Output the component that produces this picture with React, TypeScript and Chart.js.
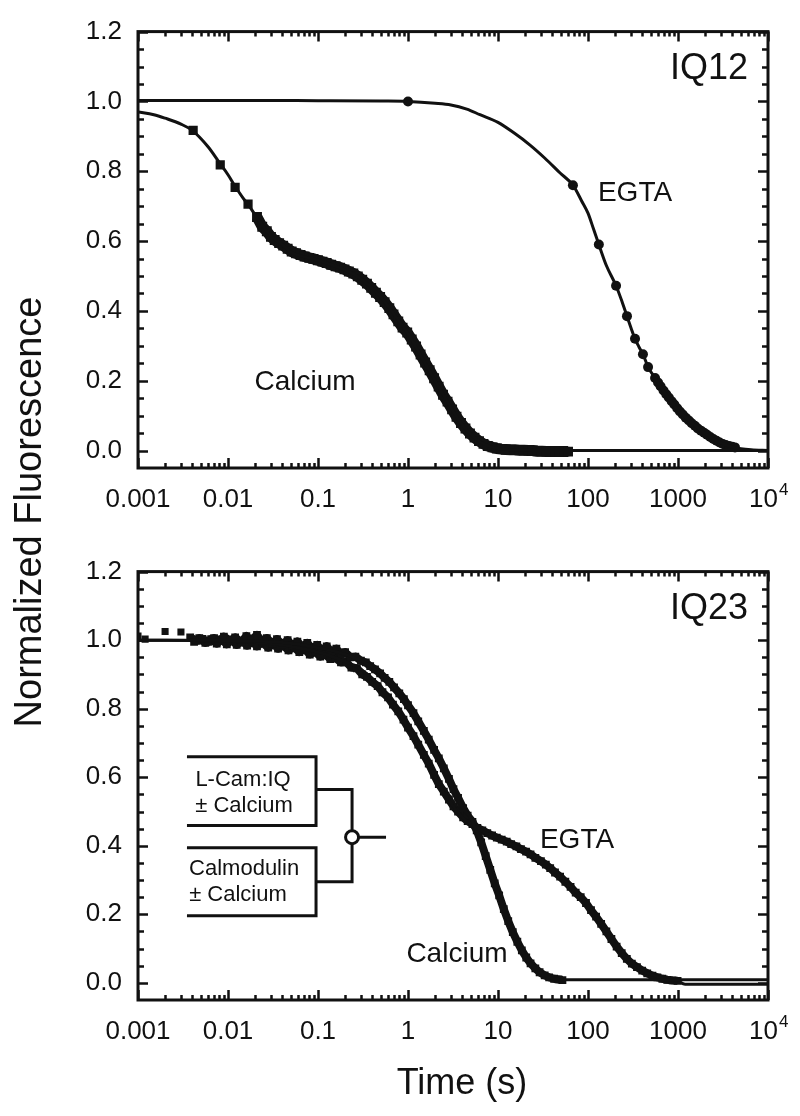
import React, { useEffect, useRef } from 'react';
import { Chart, registerables } from 'chart.js';

Chart.register(...registerables);

const FONT = '"Liberation Sans", Arial, Helvetica, sans-serif';
const INK = '#111111';

// ---- axes ----
const xMin = 0.001;
const xMax = 10000;
const yMin = -0.05;
const yMax = 1.2;
const xTickValues = [0.001, 0.01, 0.1, 1, 10, 100, 1000, 10000];
const xTickLabels = ['0.001', '0.01', '0.1', '1', '10', '100', '1000', ''];
const yTickValues = [0, 0.2, 0.4, 0.6, 0.8, 1.0, 1.2];
const yTickLabels = ['0.0', '0.2', '0.4', '0.6', '0.8', '1.0', '1.2'];
const yMinorTicks = [0.05, 0.1, 0.15, 0.25, 0.3, 0.35, 0.45, 0.5, 0.55, 0.65, 0.7, 0.75, 0.85, 0.9, 0.95, 1.05, 1.1, 1.15];

// ---- top panel (IQ12) ----
const topEgtaFitTime = [0.001, 0.01, 0.1, 0.5, 1, 2, 3, 4.5, 6.3, 10, 15, 22.7, 33, 49, 68, 85, 100, 115, 132, 160, 205, 240, 271, 300, 333, 370, 408, 465, 556, 650, 750, 870, 1000, 1250, 1500, 1800, 2200, 2700, 3300, 4000, 5000, 6500, 10000];
const topEgtaFitValue = [1.003, 1.003, 1.002, 1.001, 1.0, 0.995, 0.99, 0.978, 0.962, 0.94, 0.91, 0.875, 0.838, 0.795, 0.76, 0.715, 0.68, 0.635, 0.59, 0.53, 0.472, 0.425, 0.385, 0.352, 0.32, 0.296, 0.276, 0.239, 0.208, 0.18, 0.158, 0.135, 0.115, 0.092, 0.075, 0.058, 0.042, 0.028, 0.017, 0.01, 0.005, 0.002, 0.0];

const topEgtaTime = [1, 68, 132, 205, 271, 333, 408, 465, 556, 600, 640, 690, 740, 790, 850, 910, 980, 1050, 1130, 1220, 1320, 1420, 1540, 1660, 1800, 1950, 2100, 2280, 2470, 2680, 2900, 3150, 3400, 3700, 4000, 4300];
const topEgtaValue = [1.0, 0.76, 0.59, 0.472, 0.385, 0.32, 0.276, 0.239, 0.208, 0.195, 0.184, 0.172, 0.161, 0.152, 0.141, 0.132, 0.121, 0.112, 0.103, 0.094, 0.086, 0.078, 0.071, 0.063, 0.057, 0.051, 0.045, 0.039, 0.033, 0.028, 0.023, 0.019, 0.016, 0.013, 0.011, 0.009];

const topCalciumFitTime = [0.001, 0.0015, 0.002, 0.003, 0.004, 0.006, 0.008, 0.01, 0.012, 0.015, 0.0167, 0.02, 0.025, 0.03, 0.04, 0.05, 0.07, 0.1, 0.15, 0.2, 0.25, 0.3, 0.4, 0.5, 0.7, 1, 1.4, 2, 2.7, 3.5, 4.5, 6.3, 8, 10, 15, 25, 10000];
const topCalciumFitValue = [0.97, 0.962, 0.952, 0.935, 0.917, 0.87, 0.825, 0.79, 0.757, 0.72, 0.705, 0.675, 0.64, 0.615, 0.59, 0.568, 0.555, 0.545, 0.53, 0.517, 0.505, 0.492, 0.465, 0.44, 0.39, 0.335, 0.27, 0.2, 0.143, 0.095, 0.058, 0.025, 0.012, 0.006, 0.002, 0.0, 0.0];

const topCalciumSparseTime = [0.0041, 0.0082, 0.012, 0.0167];
const topCalciumSparseValue = [0.917, 0.818, 0.754, 0.706];

const topCalciumTime = [0.021, 0.024, 0.027, 0.03, 0.033, 0.037, 0.041, 0.046, 0.051, 0.057, 0.064, 0.071, 0.08, 0.089, 0.1, 0.112, 0.125, 0.14, 0.157, 0.176, 0.197, 0.22, 0.247, 0.277, 0.31, 0.35, 0.39, 0.44, 0.49, 0.55, 0.62, 0.69, 0.78, 0.87, 0.98, 1.1, 1.23, 1.38, 1.55, 1.74, 1.95, 2.19, 2.45, 2.75, 3.09, 3.46, 3.88, 4.35, 4.88, 5.48, 6.15, 6.9, 7.7, 8.7, 9.7, 10.9, 12.2, 13.7, 15.4, 17.3, 19.4, 21.8, 24.4, 27.4, 30.7, 34.5, 38.7, 43.4, 48.7, 54.6, 60];
const topCalciumValue = [0.669, 0.641, 0.628, 0.612, 0.603, 0.594, 0.587, 0.578, 0.57, 0.565, 0.56, 0.556, 0.552, 0.549, 0.545, 0.541, 0.537, 0.532, 0.528, 0.524, 0.519, 0.513, 0.507, 0.499, 0.489, 0.478, 0.466, 0.452, 0.44, 0.425, 0.408, 0.39, 0.37, 0.352, 0.338, 0.318, 0.298, 0.275, 0.252, 0.23, 0.207, 0.183, 0.16, 0.14, 0.118, 0.097, 0.079, 0.063, 0.049, 0.037, 0.027, 0.019, 0.013, 0.009, 0.006, 0.004, 0.003, 0.002, 0.002, 0.001, 0.001, 0.0, 0.0, -0.002, -0.002, -0.003, -0.003, -0.003, -0.003, -0.003, -0.003];

// ---- bottom panel (IQ23) ----
const botCalciumFitTime = [0.001, 0.01, 0.03, 0.06, 0.1, 0.15, 0.2, 0.3, 0.45, 0.68, 1, 1.5, 2, 2.45, 3, 3.5, 4.2, 5, 5.5, 6.3, 7, 8.8, 10.5, 13, 16, 21, 28, 38, 50, 10000];
const botCalciumFitValue = [1.0, 0.999, 0.995, 0.988, 0.978, 0.968, 0.958, 0.94, 0.912, 0.868, 0.81, 0.735, 0.675, 0.63, 0.58, 0.54, 0.505, 0.48, 0.455, 0.42, 0.385, 0.3, 0.245, 0.18, 0.124, 0.07, 0.035, 0.015, 0.009, 0.009];

const botEgtaFitTime = [0.001, 0.01, 0.03, 0.06, 0.1, 0.15, 0.2, 0.3, 0.45, 0.68, 1, 1.5, 2, 2.45, 3, 3.5, 4.2, 5, 5.5, 7, 9.7, 13, 16, 22, 30, 38, 50, 65, 88, 110, 136, 170, 210, 260, 350, 450, 585, 750, 975, 1200, 10000];
const botEgtaFitValue = [1.0, 0.997, 0.99, 0.978, 0.965, 0.95, 0.938, 0.915, 0.875, 0.815, 0.745, 0.665, 0.6, 0.56, 0.525, 0.5, 0.478, 0.465, 0.457, 0.44, 0.424, 0.41, 0.398, 0.38, 0.355, 0.335, 0.31, 0.28, 0.244, 0.21, 0.178, 0.138, 0.104, 0.075, 0.048, 0.03, 0.018, 0.01, 0.006, -0.004, -0.004];

const botSparseTime = [0.001, 0.002, 0.003, 0.0012];
const botSparseValue = [1.012, 1.025, 1.024, 1.003];

const botCalciumTime = [0.0038, 0.0045, 0.0052, 0.006, 0.007, 0.008, 0.009, 0.0105, 0.012, 0.014, 0.016, 0.018, 0.021, 0.024, 0.027, 0.031, 0.035, 0.04, 0.046, 0.052, 0.059, 0.067, 0.076, 0.086, 0.098, 0.11, 0.125, 0.14, 0.16, 0.18, 0.2, 0.23, 0.26, 0.3, 0.34, 0.38, 0.43, 0.49, 0.55, 0.62, 0.7, 0.8, 0.9, 1.0, 1.15, 1.3, 1.5, 1.7, 1.95, 2.2, 2.5, 2.85, 3.2, 3.6, 4.1, 4.6, 5.2, 5.8, 6.5, 7.3, 8.2, 9.2, 10.3, 11.6, 13, 14.6, 16.4, 18.4, 20.6, 23, 26, 29, 33, 37, 42, 47, 52];
const botCalciumValue = [1.008, 0.998, 1.004, 0.995, 1.006, 0.997, 1.01, 0.999, 1.008, 0.994, 1.012, 1.0, 1.015, 0.996, 1.006, 0.99, 1.003, 0.988, 1.0, 0.984, 0.996, 0.98, 0.992, 0.975, 0.986, 0.97, 0.982, 0.966, 0.975, 0.958, 0.965, 0.95, 0.952, 0.94, 0.935, 0.924, 0.915, 0.903, 0.89, 0.878, 0.862, 0.845, 0.828, 0.81, 0.787, 0.763, 0.735, 0.71, 0.68, 0.655, 0.626, 0.595, 0.565, 0.54, 0.51, 0.488, 0.47, 0.445, 0.41, 0.37, 0.33, 0.29, 0.255, 0.215, 0.18, 0.148, 0.12, 0.095, 0.074, 0.057, 0.042, 0.031, 0.022, 0.016, 0.012, 0.01, 0.008];

const botEgtaTime = [0.0042, 0.0048, 0.0056, 0.0065, 0.0075, 0.0085, 0.0097, 0.011, 0.0125, 0.0143, 0.0163, 0.0186, 0.021, 0.024, 0.028, 0.032, 0.036, 0.041, 0.047, 0.054, 0.062, 0.071, 0.081, 0.093, 0.106, 0.12, 0.137, 0.156, 0.18, 0.205, 0.235, 0.27, 0.31, 0.35, 0.4, 0.46, 0.52, 0.6, 0.68, 0.78, 0.89, 1.0, 1.15, 1.3, 1.5, 1.7, 1.95, 2.2, 2.5, 2.85, 3.2, 3.6, 4.1, 4.6, 5.2, 5.9, 6.7, 7.6, 8.6, 9.7, 11, 12.5, 14, 16, 18, 20.5, 23, 26, 30, 34, 38, 43, 49, 56, 64, 73, 83, 95, 108, 123, 140, 160, 182, 208, 237, 270, 307, 350, 400, 455, 520, 590, 670, 760, 870, 990];
const botEgtaValue = [0.995, 1.006, 0.992, 1.003, 0.99, 1.002, 0.988, 1.0, 0.986, 0.998, 0.984, 0.996, 0.982, 0.993, 0.978, 0.99, 0.975, 0.985, 0.97, 0.98, 0.965, 0.974, 0.958, 0.966, 0.952, 0.958, 0.945, 0.948, 0.935, 0.936, 0.92, 0.918, 0.9, 0.893, 0.878, 0.866, 0.848, 0.833, 0.812, 0.792, 0.768, 0.745, 0.72, 0.695, 0.665, 0.64, 0.607, 0.58, 0.558, 0.535, 0.515, 0.5, 0.483, 0.472, 0.463, 0.452, 0.445, 0.437, 0.43, 0.424, 0.418, 0.412, 0.405, 0.398, 0.39, 0.383, 0.375, 0.365, 0.355, 0.345, 0.335, 0.322, 0.31, 0.295, 0.28, 0.263, 0.25, 0.233, 0.212, 0.193, 0.172, 0.15, 0.128, 0.106, 0.087, 0.07, 0.056, 0.046, 0.036, 0.028, 0.021, 0.016, 0.012, 0.009, 0.007, 0.006];

// ---- annotations (time, value coordinates) ----
type Note = { text: string; t: number; v: number; size: number; align: CanvasTextAlign };
const topNotes: Note[] = [
  { text: 'IQ12', t: 5998, v: 1.093, size: 36, align: 'right' },
  { text: 'EGTA', t: 333, v: 0.738, size: 28, align: 'center' },
  { text: 'Calcium', t: 0.0718, v: 0.195, size: 28, align: 'center' },
];
const botNotes: Note[] = [
  { text: 'IQ23', t: 5998, v: 1.092, size: 36, align: 'right' },
  { text: 'EGTA', t: 75.5, v: 0.4166, size: 28, align: 'center' },
  { text: 'Calcium', t: 3.5, v: 0.083, size: 28, align: 'center' },
  { text: 'L-Cam:IQ', t: 0.0147, v: 0.592, size: 22, align: 'center' },
  { text: '± Calcium', t: 0.0151, v: 0.516, size: 22, align: 'center' },
  { text: 'Calmodulin', t: 0.0151, v: 0.332, size: 22, align: 'center' },
  { text: '± Calcium', t: 0.0129, v: 0.256, size: 22, align: 'center' },
];
// schematic bracket: polylines in (time, value)
const bracketLines: [number, number][][] = [
  [[0.0035, 0.66], [0.0951, 0.66], [0.0951, 0.459], [0.0035, 0.459]],
  [[0.0035, 0.394], [0.0951, 0.394], [0.0951, 0.196], [0.0035, 0.196]],
  [[0.0951, 0.564], [0.239, 0.564], [0.239, 0.295], [0.0951, 0.295]],
  [[0.239, 0.425], [0.57, 0.425]],
];
const bracketNode: [number, number] = [0.239, 0.425];

const xy = (ts: number[], vs: number[]) => ts.map((t, i) => ({ x: t, y: vs[i] }));

function framePlugin(notes: Note[], withBracket: boolean) {
  return {
    id: 'frameTicks',
    afterDraw(chart: any) {
      const { ctx, chartArea: a } = chart;
      const xs = chart.scales.x;
      const ys = chart.scales.y;
      ctx.save();
      ctx.strokeStyle = INK;
      ctx.fillStyle = INK;
      // ticks
      ctx.lineWidth = 2.5;
      ctx.beginPath();
      const ytick = (v: number, len: number) => {
        const p = Math.round(ys.getPixelForValue(v)) + 0.5;
        ctx.moveTo(a.left, p); ctx.lineTo(a.left + len, p);
        ctx.moveTo(a.right, p); ctx.lineTo(a.right - len, p);
      };
      yTickValues.forEach((v) => ytick(v, 10));
      yMinorTicks.forEach((v) => ytick(v, 6));
      const xtick = (v: number, len: number) => {
        const p = Math.round(xs.getPixelForValue(v)) + 0.5;
        ctx.moveTo(p, a.bottom); ctx.lineTo(p, a.bottom - len);
        ctx.moveTo(p, a.top); ctx.lineTo(p, a.top + len);
      };
      xTickValues.forEach((v) => xtick(v, 10));
      for (let d = 0; d < xTickValues.length - 1; d++) {
        for (let m = 2; m <= 9; m++) xtick(xTickValues[d] * m, 5);
      }
      ctx.stroke();
      // frame
      ctx.lineWidth = 3;
      ctx.strokeRect(a.left, a.top, a.right - a.left, a.bottom - a.top);
      // 10^4 label
      const px = xs.getPixelForValue(10000);
      const ly = xs.top + 16 + 26 * 1.2 / 2;
      ctx.textBaseline = 'middle';
      ctx.font = `26px ${FONT}`;
      ctx.textAlign = 'right';
      ctx.fillText('10', px + 10, ly);
      ctx.font = `17px ${FONT}`;
      ctx.textAlign = 'left';
      ctx.fillText('4', px + 11, ly - 9);
      // notes
      notes.forEach((n) => {
        ctx.font = `${n.size}px ${FONT}`;
        ctx.textAlign = n.align;
        ctx.fillText(n.text, xs.getPixelForValue(n.t), ys.getPixelForValue(n.v));
      });
      if (withBracket) {
        ctx.lineWidth = 3;
        bracketLines.forEach((line) => {
          ctx.beginPath();
          line.forEach(([t, v], i) => {
            const x = xs.getPixelForValue(t);
            const y = ys.getPixelForValue(v);
            if (i === 0) ctx.moveTo(x, y); else ctx.lineTo(x, y);
          });
          ctx.stroke();
        });
        ctx.beginPath();
        ctx.arc(xs.getPixelForValue(bracketNode[0]), ys.getPixelForValue(bracketNode[1]), 6.5, 0, Math.PI * 2);
        ctx.fillStyle = '#ffffff';
        ctx.fill();
        ctx.stroke();
      }
      ctx.restore();
    },
  };
}

function makeConfig(datasets: any[], canvasH: number, areaTop: number, areaBottom: number, notes: Note[], withBracket: boolean) {
  return {
    type: 'scatter',
    data: { datasets },
    options: {
      animation: false,
      responsive: false,
      events: [],
      layout: { padding: { left: 0, right: 32, top: areaTop, bottom: 0 } },
      plugins: { legend: { display: false }, tooltip: { enabled: false } },
      scales: {
        x: {
          type: 'logarithmic',
          min: xMin,
          max: xMax,
          afterBuildTicks: (s: any) => { s.ticks = xTickValues.map((value) => ({ value })); },
          afterFit: (s: any) => { s.height = canvasH - areaBottom; },
          ticks: {
            autoSkip: false,
            maxRotation: 0,
            padding: 16,
            color: INK,
            font: { family: FONT, size: 26 },
            callback: (v: number) => xTickLabels[xTickValues.indexOf(v)] ?? '',
          },
          grid: { display: false, drawTicks: false },
          border: { display: false },
        },
        y: {
          type: 'linear',
          min: yMin,
          max: yMax,
          afterBuildTicks: (s: any) => { s.ticks = yTickValues.map((value) => ({ value })); },
          afterFit: (s: any) => { s.width = 138; },
          ticks: {
            padding: 16,
            color: INK,
            font: { family: FONT, size: 26 },
            callback: (v: number) => yTickLabels[yTickValues.indexOf(v)] ?? '',
          },
          grid: { display: false, drawTicks: false },
          border: { display: false },
        },
      },
    },
    plugins: [framePlugin(notes, withBracket)],
  };
}

const fitLine = (ts: number[], vs: number[], w = 3) => ({
  data: xy(ts, vs), showLine: true, borderColor: INK, borderWidth: w, pointRadius: 0,
  cubicInterpolationMode: 'monotone', fill: false,
});

const band = (ts: number[], vs: number[], w: number, r: number) => ({
  data: xy(ts, vs), showLine: true, borderWidth: w, borderColor: INK, borderJoinStyle: 'round',
  pointStyle: 'rect', pointRadius: r, backgroundColor: INK, pointBorderWidth: 0,
});

const TOP_H = 540;
const BOT_H = 576;

export default function App() {
  const topRef = useRef<HTMLCanvasElement>(null);
  const botRef = useRef<HTMLCanvasElement>(null);

  useEffect(() => {
    const topDatasets = [
      fitLine(topEgtaFitTime, topEgtaFitValue),
      fitLine(topCalciumFitTime, topCalciumFitValue),
      { data: xy(topEgtaTime, topEgtaValue), showLine: false, pointStyle: 'circle', pointRadius: 5, backgroundColor: INK, borderColor: INK, borderWidth: 0 },
      { data: xy(topCalciumSparseTime, topCalciumSparseValue), showLine: false, pointStyle: 'rect', pointRadius: 6.5, backgroundColor: INK, borderColor: INK, borderWidth: 0 },
      band(topCalciumTime, topCalciumValue, 11, 7),
    ];
    const botDatasets = [
      fitLine(botCalciumFitTime, botCalciumFitValue),
      fitLine(botEgtaFitTime, botEgtaFitValue),
      { data: xy(botSparseTime, botSparseValue), showLine: false, pointStyle: 'rect', pointRadius: 5, backgroundColor: INK, borderColor: INK, borderWidth: 0 },
      band(botCalciumTime, botCalciumValue, 8, 5.5),
      band(botEgtaTime, botEgtaValue, 8, 5.5),
    ];
    const c1 = new Chart(topRef.current as HTMLCanvasElement, makeConfig(topDatasets, TOP_H, 24, 468, topNotes, false) as any);
    const c2 = new Chart(botRef.current as HTMLCanvasElement, makeConfig(botDatasets, BOT_H, 18, 460, botNotes, true) as any);
    return () => { c1.destroy(); c2.destroy(); };
  }, []);

  return (
    <div style={{ position: 'absolute', left: 0, top: 0, width: 800, height: 1116, background: '#fff', overflow: 'hidden' }}>
      <canvas ref={topRef} width={800} height={TOP_H} style={{ position: 'absolute', left: 0, top: 0, width: 800, height: TOP_H }} />
      <canvas ref={botRef} width={800} height={BOT_H} style={{ position: 'absolute', left: 0, top: TOP_H, width: 800, height: BOT_H }} />
      <div style={{ position: 'absolute', left: 29 - 300, top: 512 - 22, width: 600, height: 44, lineHeight: '44px', textAlign: 'center', transform: 'rotate(-90deg)', font: `38px ${FONT}`, color: INK, whiteSpace: 'nowrap' }}>
        Normalized Fluorescence
      </div>
      <div style={{ position: 'absolute', left: 462 - 200, top: 1083 - 22, width: 400, height: 44, lineHeight: '44px', textAlign: 'center', font: `36px ${FONT}`, color: INK, whiteSpace: 'nowrap' }}>
        Time (s)
      </div>
    </div>
  );
}
